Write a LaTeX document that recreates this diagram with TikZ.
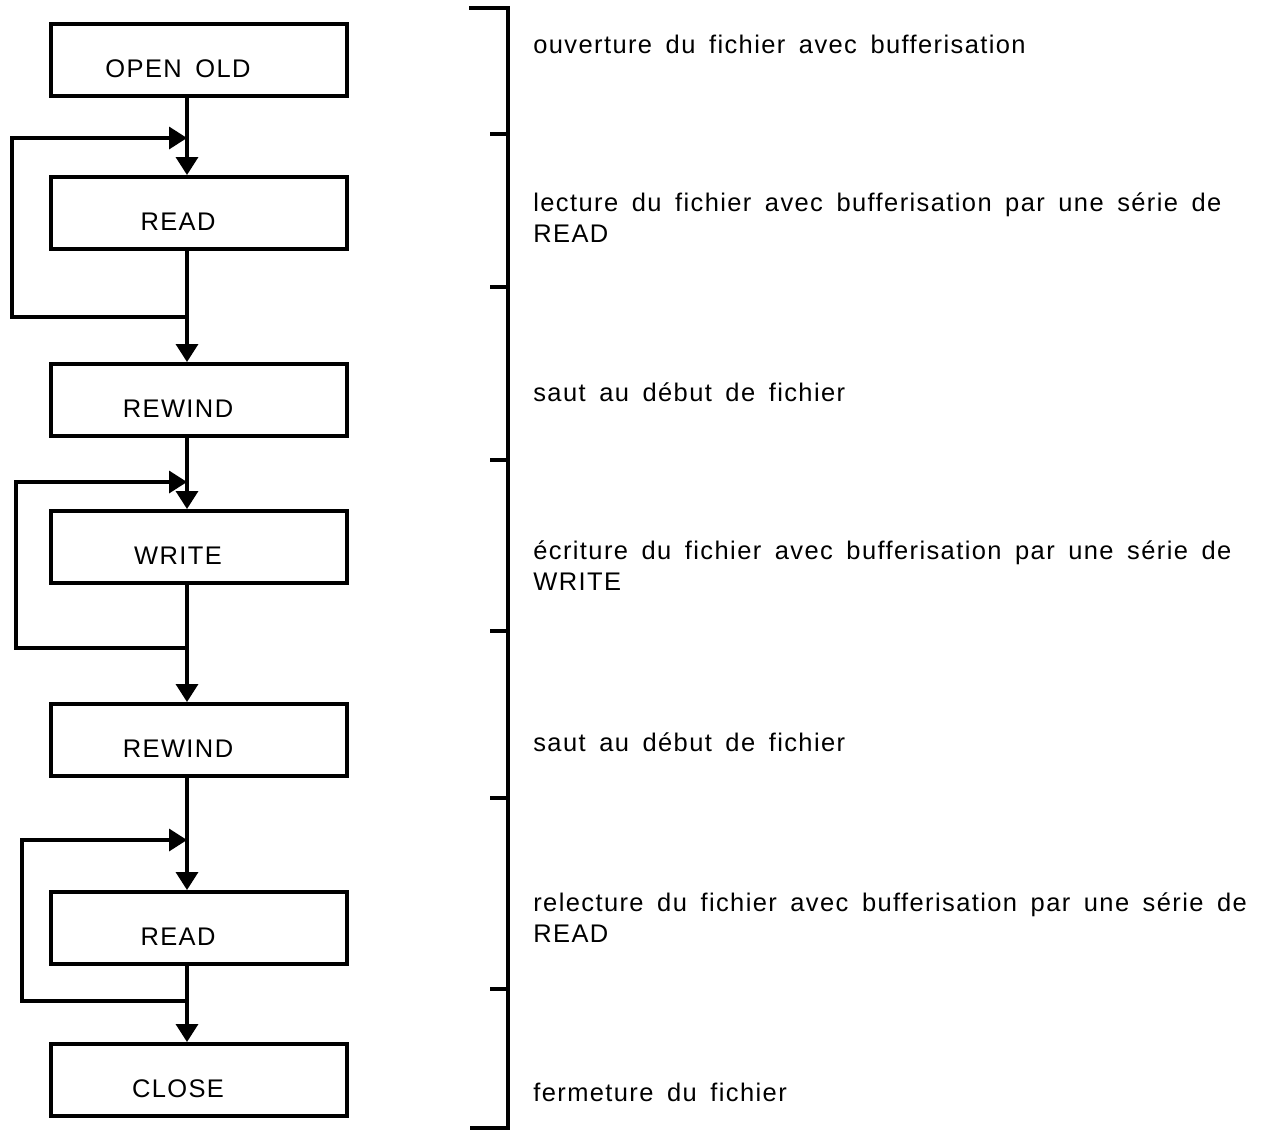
\documentclass[tikz,border=0pt]{standalone}
\usepackage{fontspec}
\newfontfamily\labfont[LetterSpace=5.5,WordSpace=1.6]{Liberation Sans}
\newcommand\flowfont{\labfont\fontsize{14.5pt}{17.6pt}\selectfont}
\usetikzlibrary{arrows.meta}

\begin{document}
\begin{tikzpicture}[x=0.02cm,y=-0.02cm,>={Triangle[length=0.36cm,width=0.44cm]},
 b/.style={draw,line width=0.08cm,minimum width=5.92cm,minimum height=1.44cm,text height=0.68cm,text depth=0pt,font=\flowfont,execute at begin node={\hspace*{-0.84cm}}},
 a/.style={->,line width=0.07cm},
 brk/.style={line width=0.08cm},
 l/.style={anchor=west,align=left,inner sep=0pt,font=\flowfont}]
 \useasboundingbox (0,0) rectangle (1269,1130);
 % boxes
 \node[b] (open) at (199,60) {OPEN OLD};
 \node[b] (read1) at (199,213) {READ};
 \node[b] (rew1) at (199,400) {REWIND};
 \node[b] (write) at (199,547) {WRITE};
 \node[b] (rew2) at (199,740) {REWIND};
 \node[b] (read2) at (199,928) {READ};
 \node[b] (close) at (199,1080) {CLOSE};
 \coordinate (spine) at (187,0);
 \draw[a] (open.south -| spine) -- (read1.north -| spine);
 \draw[a] (read1.south -| spine) -- (rew1.north -| spine);
 \draw[a] (rew1.south -| spine) -- (write.north -| spine);
 \draw[a] (write.south -| spine) -- (rew2.north -| spine);
 \draw[a] (rew2.south -| spine) -- (read2.north -| spine);
 \draw[a] (read2.south -| spine) -- (close.north -| spine);
 % loops
 \coordinate (in1) at (187,138); \coordinate (out1) at (187,317);
 \coordinate (in2) at (187,482); \coordinate (out2) at (187,648);
 \coordinate (in3) at (187,840); \coordinate (out3) at (187,1001);
 \draw[a] (out1) -- ++(-175,0) |- (in1);
 \draw[a] (out2) -- ++(-171,0) |- (in2);
 \draw[a] (out3) -- ++(-165,0) |- (in3);
 % bracket
 \draw[brk] (469,8) -- (508,8) -- (508,1128) -- (470,1128);
 \foreach \y in {134,287,460,631,798,989}
  \draw[brk] (490,\y) -- (508,\y);
 % comments
 \node[l] (t1) at (533,44) {ouverture du fichier avec bufferisation};
 \node[l] (t2) at (533,218) {lecture du fichier avec bufferisation par une série de\\READ};
 \node[l] (t3) at (533,392) {saut au début de fichier};
 \node[l] (t4) at (533,566) {écriture du fichier avec bufferisation par une série de\\WRITE};
 \node[l] (t5) at (533,742) {saut au début de fichier};
 \node[l] (t6) at (533,918) {relecture du fichier avec bufferisation par une série de\\READ};
 \node[l] (t7) at (533,1092) {fermeture du fichier};
\end{tikzpicture}
\end{document}
